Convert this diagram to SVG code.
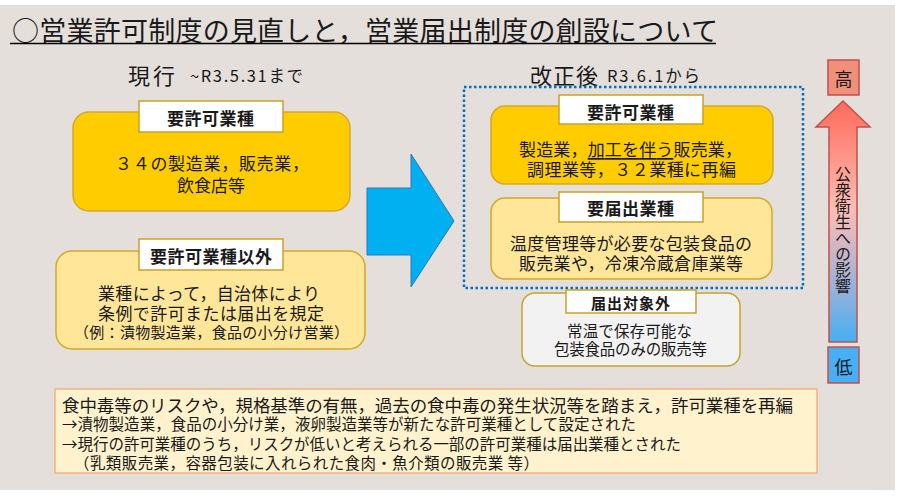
<svg xmlns="http://www.w3.org/2000/svg" width="900" height="497" viewBox="0 0 900 497">
<defs>
<style>
text{font-family:"Noto Sans CJK JP","Noto Sans",sans-serif;fill:#1a1a1a;dominant-baseline:central}
.mid{text-anchor:middle}
.lbl{font-weight:700}
.lab{fill:#ffffff;stroke:#C9A227;stroke-width:1.5}
.y1{fill:#FFCC00;stroke:#D4A82A;stroke-width:1.5}
.y2{fill:#FFE699;stroke:#D4A82A;stroke-width:1.5}
.g1{fill:#F2F2F2;stroke:#C9A227;stroke-width:1.5}
</style>
<linearGradient id="imp" x1="0" y1="0" x2="0" y2="1">
<stop offset="0" stop-color="#FF6A5A"/>
<stop offset="0.45" stop-color="#FFBDB5"/>
<stop offset="0.7" stop-color="#B4B2CF"/>
<stop offset="1" stop-color="#45AFF2"/>
</linearGradient>
</defs>
<rect x="0" y="5" width="895" height="485" fill="#E5DFDB"/>

<g id="title">
<text x="12" y="29" font-size="27" textLength="706" lengthAdjust="spacing">○営業許可制度の見直しと，営業届出制度の創設について</text>
<line x1="10" y1="43.5" x2="716" y2="43.5" stroke="#000" stroke-width="1.5"/>
</g>

<g id="current-heading">
<text x="128" y="74" font-size="22" textLength="47" lengthAdjust="spacing">現行</text>
<text x="190" y="75" font-size="16.5" textLength="113" lengthAdjust="spacing">~R3.5.31まで</text>
</g>
<g id="revised-heading">
<text x="530" y="74" font-size="22" textLength="68" lengthAdjust="spacing">改正後</text>
<text x="607" y="75" font-size="16.5" textLength="93" lengthAdjust="spacing">R3.6.1から</text>
</g>

<g id="cur-permit">
<rect class="y1" x="73" y="112" width="277" height="99" rx="16"/>
<rect class="lab" x="139" y="101" width="144" height="31"/>
<text class="lbl" x="167" y="117" font-size="17" textLength="87" lengthAdjust="spacing">要許可業種</text>
<text x="115" y="162" font-size="17" textLength="194" lengthAdjust="spacing">３４の製造業，販売業，</text>
<text x="177" y="184" font-size="17" textLength="68" lengthAdjust="spacing">飲食店等</text>
</g>

<g id="cur-other">
<rect class="y2" x="56" y="251" width="309" height="98" rx="16"/>
<rect class="lab" x="139" y="239" width="144" height="31"/>
<text class="lbl" x="150" y="255" font-size="17" textLength="122" lengthAdjust="spacing">要許可業種以外</text>
<text x="98" y="292" font-size="17" textLength="222" lengthAdjust="spacing">業種によって，自治体により</text>
<text x="98" y="312" font-size="17" textLength="226" lengthAdjust="spacing">条例で許可または届出を規定</text>
<text x="74" y="331" font-size="15" textLength="275" lengthAdjust="spacing">（例：漬物製造業，食品の小分け営業）</text>
</g>

<g id="connectors">
<polygon points="367,188 411,188 411,154 454,221 411,287 411,255 367,255" fill="#00B0F0" stroke="#2E75B6" stroke-width="1"/>
</g>

<g id="revised-group">
<rect x="464" y="87" width="339" height="201" fill="none" stroke="#0070C0" stroke-width="2.5" stroke-dasharray="2.5,2.5"/>
</g>

<g id="new-permit">
<rect class="y1" x="491" y="106" width="282" height="78" rx="14"/>
<rect class="lab" x="559" y="95" width="144" height="29"/>
<text class="lbl" x="587" y="111" font-size="17" textLength="87" lengthAdjust="spacing">要許可業種</text>
<text x="519" y="148" font-size="17" textLength="223" lengthAdjust="spacing">製造業，<tspan style="text-decoration:underline">加工を伴う</tspan>販売業，</text>
<text x="527" y="168" font-size="17" textLength="209" lengthAdjust="spacing">調理業等，３２業種に再編</text>
</g>

<g id="new-notify">
<rect class="y2" x="491" y="198" width="281" height="81" rx="14"/>
<rect class="lab" x="559" y="192" width="144" height="30"/>
<text class="lbl" x="587" y="207" font-size="17" textLength="87" lengthAdjust="spacing">要届出業種</text>
<text x="510" y="242" font-size="17" textLength="242" lengthAdjust="spacing">温度管理等が必要な包装食品の</text>
<text x="519" y="262" font-size="17" textLength="224" lengthAdjust="spacing">販売業や，冷凍冷蔵倉庫業等</text>
</g>

<g id="no-notify">
<rect class="g1" x="522" y="293" width="218" height="73" rx="13"/>
<rect class="lab" x="566" y="290" width="130" height="23"/>
<text class="lbl" x="591" y="302" font-size="15" textLength="79" lengthAdjust="spacing">届出対象外</text>
<text x="567" y="330" font-size="15.5" textLength="125" lengthAdjust="spacing">常温で保存可能な</text>
<text x="554" y="348" font-size="15.5" textLength="153" lengthAdjust="spacing">包装食品のみの販売等</text>
</g>

<g id="impact-scale">
<rect x="828" y="60" width="31" height="35" fill="#F0907A" stroke="#C0504D" stroke-width="1.5"/>
<text class="mid" x="843.5" y="78" font-size="18">高</text>
<polygon points="843,101 870,127 857,127 857,342 829,342 829,127 816,127" fill="url(#imp)" stroke="#C0504D" stroke-width="1.5"/>
<text x="843" y="166" font-size="16" style="writing-mode:vertical-rl;dominant-baseline:auto">公衆衛生への影響</text>
<rect x="828" y="347" width="31" height="36" fill="#47B0F5" stroke="#C0504D" stroke-width="1.5"/>
<text class="mid" x="843.5" y="366" font-size="18">低</text>
</g>

<g id="note">
<rect x="55" y="389" width="762" height="84" fill="#FFF2CC" stroke="#F4B183" stroke-width="1.5"/>
<text x="62" y="404" font-size="17.5" textLength="731" lengthAdjust="spacing">食中毒等のリスクや，規格基準の有無，過去の食中毒の発生状況等を踏まえ，許可業種を再編</text>
<text x="62" y="423" font-size="15.5" textLength="574" lengthAdjust="spacing">→漬物製造業，食品の小分け業，液卵製造業等が新たな許可業種として設定された</text>
<text x="62" y="443" font-size="15.5" textLength="619" lengthAdjust="spacing">→現行の許可業種のうち，リスクが低いと考えられる一部の許可業種は届出業種とされた</text>
<text x="74" y="462" font-size="15.5" textLength="465" lengthAdjust="spacing">（乳類販売業，容器包装に入れられた食肉・魚介類の販売業 等）</text>
</g>
</svg>
